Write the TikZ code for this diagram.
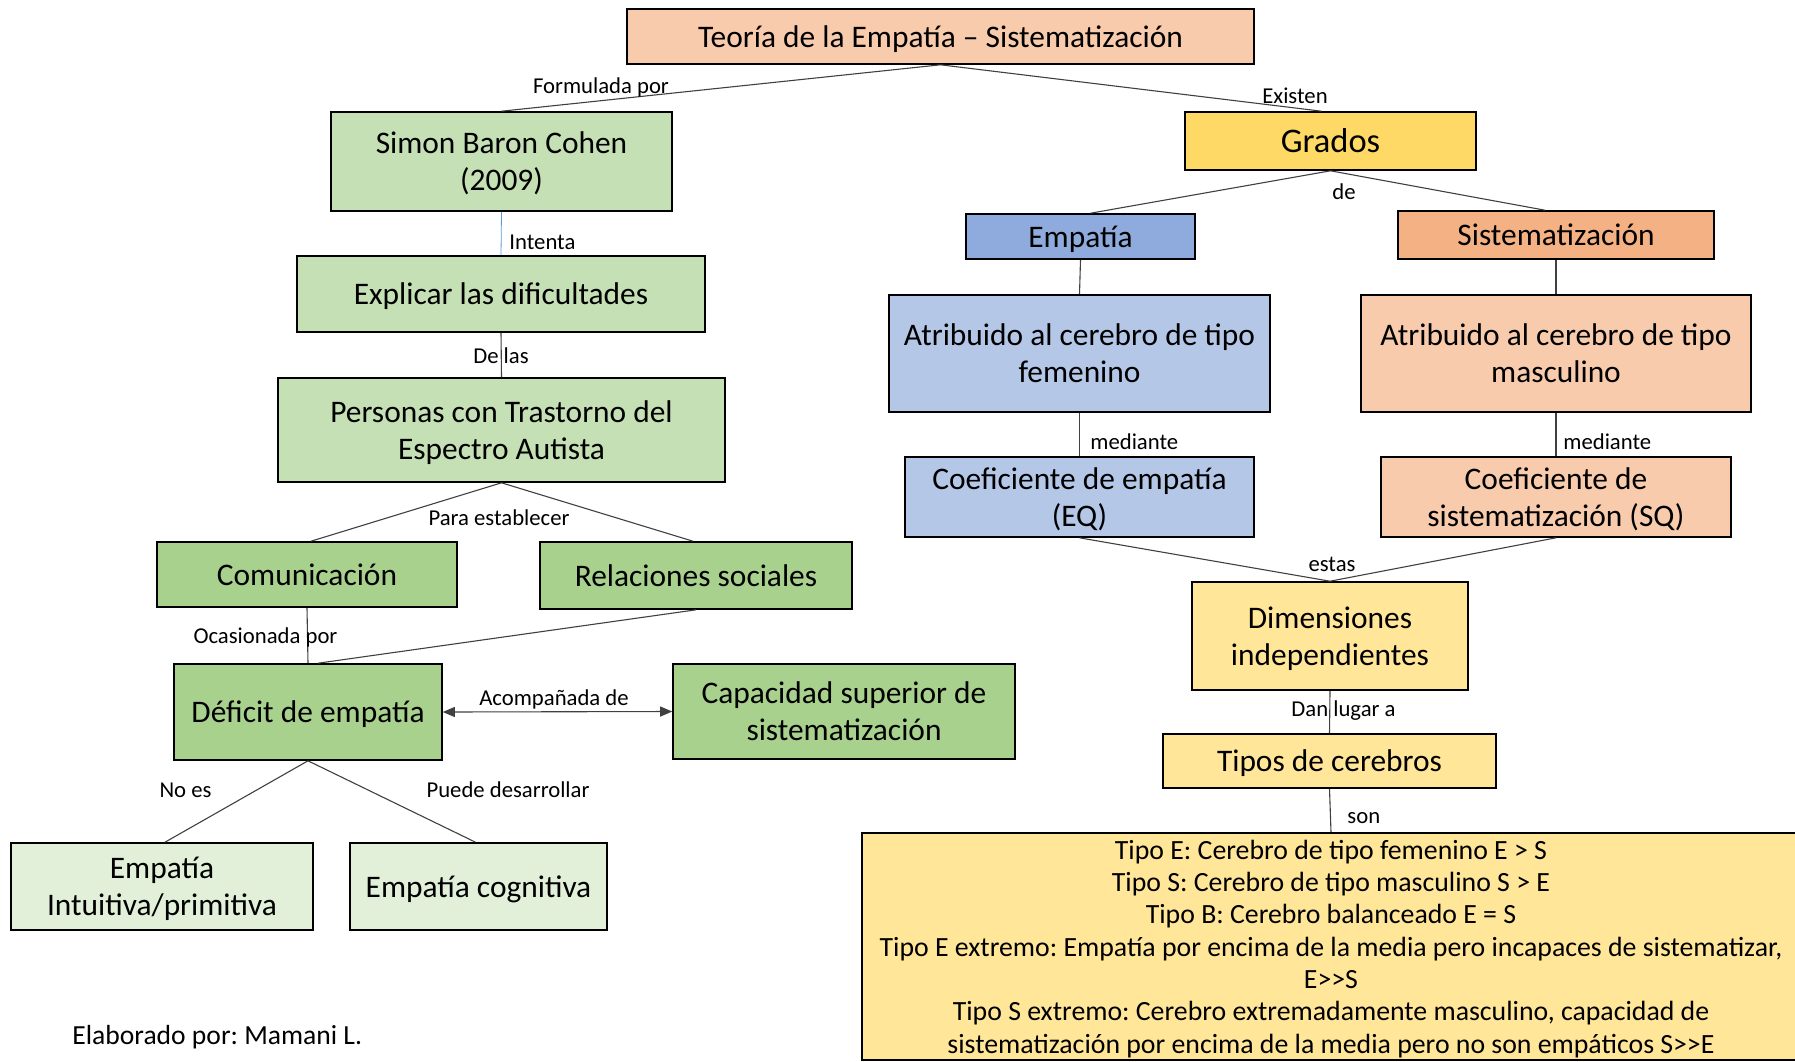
\documentclass[tikz,border=0pt]{standalone}
\usepackage{fontspec}
\setmainfont{Carlito}
\usepackage{xcolor}
\usetikzlibrary{arrows.meta}
\frenchspacing

\definecolor{peach}{HTML}{F8CBAD}
\definecolor{apricot}{HTML}{F4B183}
\definecolor{gold}{HTML}{FFD966}
\definecolor{paleyellow}{HTML}{FFE699}
\definecolor{midblue}{HTML}{8FAADC}
\definecolor{paleblue}{HTML}{B4C7E7}
\definecolor{lightgreen}{HTML}{C5E0B4}
\definecolor{midgreen}{HTML}{A9D18E}
\definecolor{palegreen}{HTML}{E2F0D9}
\definecolor{linkblue}{HTML}{5B9BD5}

\begin{document}
\begin{tikzpicture}[x=1pt,y=-1pt,thick,>={Triangle[length=12pt,width=10pt]},
                        main node/.style={draw,line width=1.6pt,align=center,inner sep=0pt,text depth=0pt,font=\fontsize{31.4}{37}\selectfont},
                        edge label/.style={inner sep=0pt,font=\fontsize{22.7}{27}\selectfont},
                        link/.style={draw=black!75,line width=1.1pt}]
                        \useasboundingbox (0,0) rectangle (1795,1061);

                        % left branch
                        \node[main node,fill=peach,minimum width=627pt,minimum height=55pt] (1) at (940.5,36.5) {Teoría de la Empatía – Sistematización};
                        \node[main node,fill=lightgreen,minimum width=341pt,minimum height=99pt] (2) at (501.5,161.5) {Simon Baron Cohen\\(2009)};
                        \node[main node,fill=lightgreen,minimum width=408pt,minimum height=76pt] (3) at (501,294) {Explicar las dificultades};
                        \node[main node,fill=lightgreen,minimum width=447pt,minimum height=104pt] (4) at (501.5,430) {Personas con Trastorno del\\Espectro Autista};
                        \node[main node,fill=midgreen,minimum width=300pt,minimum height=65pt] (5) at (307,574.5) {Comunicación};
                        \node[main node,fill=midgreen,minimum width=312pt,minimum height=67pt] (6) at (696,575.5) {Relaciones sociales};
                        \node[main node,fill=midgreen,minimum width=268pt,minimum height=96pt] (7) at (308,712) {Déficit de empatía};
                        \node[main node,fill=midgreen,minimum width=342pt,minimum height=95pt] (8) at (844,711.5) {Capacidad superior de\\sistematización};
                        \node[main node,fill=palegreen,minimum width=302pt,minimum height=87pt] (9) at (162,886.5) {Empatía\\Intuitiva/primitiva};
                        \node[main node,fill=palegreen,minimum width=257pt,minimum height=87pt] (10) at (478.5,886.5) {Empatía cognitiva};

                        % right branch
                        \node[main node,fill=gold,minimum width=291pt,minimum height=58pt,font=\fontsize{34.5}{40}\selectfont] (11) at (1330.5,141) {Grados};
                        \node[main node,fill=midblue,minimum width=229pt,minimum height=45pt] (12) at (1080.5,236.5) {Empatía};
                        \node[main node,fill=apricot,minimum width=316pt,minimum height=48pt] (13) at (1556,235) {Sistematización};
                        \node[main node,fill=paleblue,minimum width=381pt,minimum height=117pt] (14) at (1079.5,353.5) {Atribuido al cerebro de tipo\\femenino};
                        \node[main node,fill=peach,minimum width=390pt,minimum height=117pt] (15) at (1556,353.5) {Atribuido al cerebro de tipo\\masculino};
                        \node[main node,fill=paleblue,minimum width=349pt,minimum height=80pt] (16) at (1079.5,497) {Coeficiente de empatía\\(EQ)};
                        \node[main node,fill=peach,minimum width=350pt,minimum height=80pt] (17) at (1556,497) {Coeficiente de\\sistematización (SQ)};
                        \node[main node,fill=paleyellow,minimum width=276pt,minimum height=108pt] (18) at (1330,636) {Dimensiones\\independientes};
                        \node[main node,fill=paleyellow,minimum width=333pt,minimum height=54pt] (19) at (1329.5,761) {Tipos de cerebros};
                        \node[main node,fill=paleyellow,minimum width=938pt,minimum height=227pt,font=\fontsize{27.8}{32.3}\selectfont] (20) at (1331,946.5)
                        {Tipo E: Cerebro de tipo femenino E > S\\
                         Tipo S: Cerebro de tipo masculino S > E\\
                         Tipo B: Cerebro balanceado E = S\\
                         Tipo E extremo: Empatía por encima de la media pero incapaces de sistematizar,\\
                         E>{}>S\\
                         Tipo S extremo: Cerebro extremadamente masculino, capacidad de\\
                         sistematización por encima de la media pero no son empáticos S>{}>E};

                        \node[anchor=west,inner sep=0pt,font=\fontsize{27.6}{32}\selectfont] (21) at (72,1037) {Elaborado por: Mamani L.};

                        % connectors
                        \path[link]
                        (1.south) edge (2.north)
                        edge ([xshift=-9pt]11.north)
                        (3.south) edge (4.north)
                        (4.south) edge ([xshift=4pt]5.north)
                        edge ([xshift=-3pt]6.north)
                        (5.south) edge (7.north)
                        (6.south) edge ([xshift=10pt]7.north)
                        (7.south) edge ([xshift=3pt]9.north)
                        edge ([xshift=-3pt]10.north)
                        (11.south) edge ([xshift=10pt]12.north)
                        edge ([xshift=-11pt]13.north)
                        (12.south) edge (14.north)
                        (13.south) edge (15.north)
                        (14.south) edge (16.north)
                        (15.south) edge (17.north)
                        (16.south) edge (18.north)
                        (17.south) edge (18.north)
                        (18.south) edge (19.north)
                        (19.south) edge (20.north)
                        ;
                        \draw[linkblue,line width=0.8pt] (2.south) -- (3.north);
                        \draw[link,<->] (7.east) -- (8.west);

                        % connector labels
                        \node[edge label] (l1) at (601,87) {Formulada por};
                        \node[edge label] (l2) at (1295,96) {Existen};
                        \node[edge label,anchor=west] (l3) at (509,242) {Intenta};
                        \node[edge label] (l4) at (501,356) {De las};
                        \node[edge label] (l5) at (499,518) {Para establecer};
                        \node[edge label] (l6) at (265.5,637) {Ocasionada por};
                        \node[edge label] (l7) at (554,699) {Acompañada de};
                        \node[edge label] (l8) at (185.5,790) {No es};
                        \node[edge label] (l9) at (508,790) {Puede desarrollar};
                        \node[edge label] (l10) at (1344,192) {de};
                        \node[edge label,anchor=west] (l11) at (1090,442) {mediante};
                        \node[edge label,anchor=west] (l12) at (1563,442) {mediante};
                        \node[edge label] (l13) at (1332,564) {estas};
                        \node[edge label] (l14) at (1343.5,711) {Dan lugar a};
                        \node[edge label,anchor=west] (l15) at (1347,818) {son};
                        \end{tikzpicture}
\end{document}
